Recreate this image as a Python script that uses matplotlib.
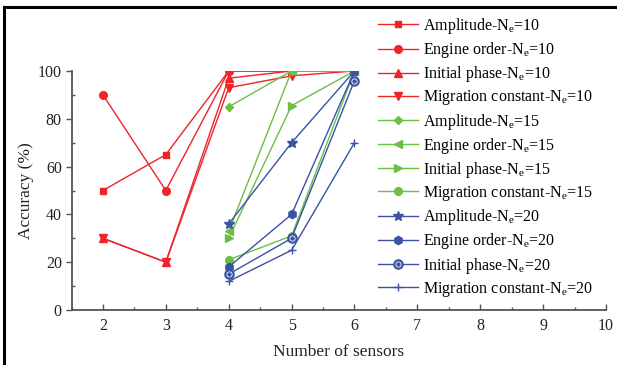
"""
传感器数量与识别准确率关系图
"""
import numpy as np
import matplotlib
matplotlib.use('Agg')
import matplotlib.pyplot as plt
from matplotlib.lines import Line2D
from matplotlib.legend_handler import HandlerTuple
from matplotlib.ticker import MultipleLocator

plt.rcParams['font.family'] = ['Liberation Serif', 'DejaVu Serif']
plt.rcParams['mathtext.fontset'] = 'custom'
plt.rcParams['mathtext.rm'] = 'Liberation Serif'

# 传感器数量
sensors_10 = [2, 3, 4, 5, 6]
sensors_15 = [4, 5, 6]
sensors_20 = [4, 5, 6]

# Ne=10
amp_10 = [50, 65, 100, 100, 100]
eo_10 = [90, 50, 100, 100, 100]
ip_10 = [30, 20, 97, 100, 100]
mc_10 = [30, 20, 93, 98, 100]

# Ne=15
amp_15 = [85, 100, 100]
eo_15 = [33, 100, 100]
ip_15 = [30, 85.5, 100]
mc_15 = [21, 31, 100]

# Ne=20
amp_20 = [36, 70, 100]
eo_20 = [18, 40, 100]
ip_20 = [15, 30, 96]
mc_20 = [12, 25, 70]

RED = '#EE2429'
GREEN = '#6CBE45'
BLUE = '#3A53A4'

fig = plt.figure(figsize=(6.17, 3.65), dpi=100)
ax = fig.add_axes([71.5 / 617, 1 - 310 / 365, (606 - 71.5) / 617, (310 - 71) / 365])

handles = []
labels = []

def add(x, y, color, marker, label, ms=5.5, **kw):
    ln, = ax.plot(x, y, color=color, marker=marker, markersize=ms, lw=1.0,
                  markeredgecolor=color, **kw)
    handles.append(ln)
    labels.append(label)
    return ln

ne = lambda n: 'N$_\\mathrm{e}$=' + str(n)

add(sensors_10, amp_10, RED, 's', 'Amplitude-' + ne(10), ms=5)
add(sensors_10, eo_10, RED, 'o', 'Engine order-' + ne(10))
add(sensors_10, ip_10, RED, '^', 'Initial phase-' + ne(10))
add(sensors_10, mc_10, RED, 'v', 'Migration constant-' + ne(10))

add(sensors_15, amp_15, GREEN, 'D', 'Amplitude-' + ne(15), ms=4.5)
add(sensors_15, eo_15, GREEN, '<', 'Engine order-' + ne(15))
add(sensors_15, ip_15, GREEN, '>', 'Initial phase-' + ne(15))
add(sensors_15, mc_15, GREEN, 'o', 'Migration constant-' + ne(15))

add(sensors_20, amp_20, BLUE, '*', 'Amplitude-' + ne(20), ms=7)
add(sensors_20, eo_20, BLUE, 'h', 'Engine order-' + ne(20), ms=6)
# 环形圆点标记：空心圆 + 中心点
ring = add(sensors_20, ip_20, BLUE, 'o', 'Initial phase-' + ne(20),
           ms=6, markerfacecolor='white', markeredgewidth=1.6)
dot, = ax.plot(sensors_20, ip_20, ls='none', marker='o', markersize=2.2, color=BLUE)
handles[-1] = (ring, dot)
add(sensors_20, mc_20, BLUE, '+', 'Migration constant-' + ne(20), ms=6)

ax.set_xlim(1.5, 10)
ax.set_ylim(0, 100)
ax.xaxis.set_major_locator(MultipleLocator(1))
ax.xaxis.set_minor_locator(MultipleLocator(0.5))
ax.yaxis.set_major_locator(MultipleLocator(20))
ax.yaxis.set_minor_locator(MultipleLocator(10))
ax.set_xticks(range(2, 11))

for side in ['top', 'right']:
    ax.spines[side].set_visible(False)
for side in ['left', 'bottom']:
    ax.spines[side].set_color('#555555')
    ax.spines[side].set_linewidth(1.3)
    ax.spines[side].set_clip_on(False)

ax.tick_params(axis='x', which='major', direction='in', length=4, width=1, color='#555555',
               labelsize=11.5, pad=6)
ax.tick_params(axis='x', which='minor', direction='in', length=2.5, width=1, color='#555555')
ax.tick_params(axis='y', which='major', direction='out', length=4, width=1, color='#555555',
               labelsize=11.5, pad=3)
ax.tick_params(axis='y', which='minor', direction='in', length=2.5, width=1, color='#555555')
for lbl in ax.get_xticklabels() + ax.get_yticklabels():
    lbl.set_color('#222222')

ax.set_xlabel('Number of sensors', fontsize=12.5, labelpad=7, color='#222222')
ax.set_ylabel('Accuracy (%)', fontsize=12.5, labelpad=3, color='#222222')

fig.legend(handles, labels, loc='upper left', bbox_to_anchor=(378 / 617, 1 - 16 / 365),
           frameon=False, fontsize=11.5, handlelength=2.5, handletextpad=0.3,
           labelspacing=0.26, borderpad=0, borderaxespad=0,
           handler_map={tuple: HandlerTuple(ndivide=1)})

# 外框
fig.add_artist(Line2D([4 / 617, 615 / 617], [1 - 7 / 365, 1 - 7 / 365],
                      transform=fig.transFigure, color='black', lw=2.2))
fig.add_artist(Line2D([4 / 617, 4 / 617], [0, 1 - 7 / 365],
                      transform=fig.transFigure, color='black', lw=2.2))

fig.savefig('out.png', dpi=100)
